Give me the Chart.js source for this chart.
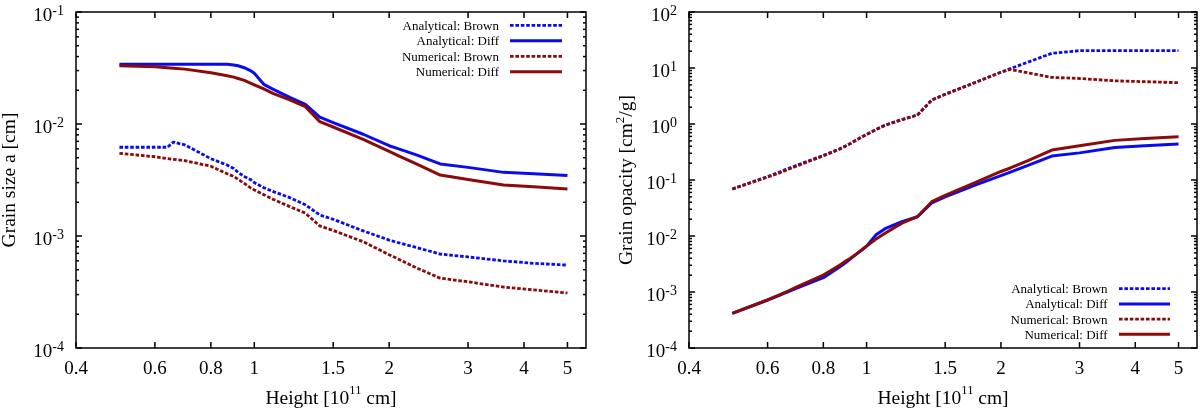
<!DOCTYPE html>
<html>
<head>
<meta charset="utf-8">
<title>Grain size and opacity vs height</title>
<script src="https://cdn.jsdelivr.net/npm/chart.js@4.4.1/dist/chart.umd.min.js"></script>
<style>
  html, body { margin: 0; padding: 0; background: #fff; }
  .panel { position: absolute; top: 0; width: 600px; height: 410px; }
</style>
</head>
<body>
<div class="panel" style="left:0"><canvas id="sizeChart"></canvas></div>
<div class="panel" style="left:600px"><canvas id="opacChart"></canvas></div>
<script>
// 두 패널: 왼쪽 grain size, 오른쪽 grain opacity (둘 다 log-log)

var heights = [0.5, 0.6, 0.64, 0.66, 0.7, 0.8, 0.87, 0.9, 0.92, 0.95, 0.98, 1.0, 1.05, 1.1, 1.2, 1.3, 1.4, 1.5, 1.75, 2.0, 2.1, 2.3, 2.6, 3.0, 3.6, 4.2, 5.0];

var seriesLabels = ['Analytical: Brown', 'Analytical: Diff', 'Numerical: Brown', 'Numerical: Diff'];

// grain size a [cm]
var sizeAnaBrown = [0.0062, 0.0062, 0.0062, 0.0069, 0.0065, 0.0049, 0.0043, 0.0040, 0.0037, 0.0034, 0.0032, 0.0030, 0.0027, 0.0025, 0.0022, 0.0019, 0.00154, 0.00141, 0.00111, 0.00092, 0.00087, 0.00079, 0.00069, 0.00065, 0.0006, 0.00057, 0.00055];
var sizeAnaDiff = [0.0341, 0.0341, 0.0341, 0.0341, 0.0341, 0.0342, 0.0341, 0.0337, 0.0331, 0.0318, 0.0300, 0.0284, 0.0226, 0.0205, 0.0173, 0.0150, 0.0115, 0.0103, 0.0081, 0.0064, 0.0060, 0.0053, 0.0044, 0.0041, 0.0037, 0.0036, 0.00347];
var sizeNumBrown = [0.00547, 0.0051, 0.0049, 0.00484, 0.0047, 0.0042, 0.0036, 0.0034, 0.0032, 0.00295, 0.0027, 0.00258, 0.00234, 0.00213, 0.00183, 0.0016, 0.00123, 0.00112, 0.00089, 0.00068, 0.00062, 0.00052, 0.00042, 0.00039, 0.00035, 0.00033, 0.00031];
var sizeNumDiff = [0.0332, 0.0324, 0.0318, 0.0315, 0.0309, 0.0287, 0.027, 0.0262, 0.0255, 0.0245, 0.0232, 0.0224, 0.0206, 0.0188, 0.0164, 0.0143, 0.0105, 0.0094, 0.0073, 0.0057, 0.0052, 0.0044, 0.0035, 0.0032, 0.00285, 0.00275, 0.00263];

// grain opacity [cm^2/g]
var opacAnaBrown = [0.069, 0.115, 0.14, 0.155, 0.185, 0.275, 0.36, 0.41, 0.45, 0.52, 0.6, 0.65, 0.8, 0.95, 1.2, 1.45, 2.68, 3.39, 5.5, 8.4, 9.75, 12.7, 18.3, 20.4, 20.4, 20.4, 20.4];
var opacNumBrown = [0.069, 0.113, 0.135, 0.15, 0.18, 0.27, 0.355, 0.41, 0.45, 0.52, 0.6, 0.65, 0.8, 0.95, 1.2, 1.45, 2.68, 3.39, 5.5, 8.4, 9.4, 8.2, 6.8, 6.5, 5.9, 5.7, 5.47];
var opacAnaDiff = [0.000416, 0.00072, 0.00088, 0.00098, 0.00118, 0.0018, 0.0028, 0.0034, 0.0039, 0.0048, 0.0058, 0.0066, 0.0105, 0.0135, 0.018, 0.0221, 0.039, 0.050, 0.081, 0.12, 0.138, 0.182, 0.268, 0.305, 0.38, 0.41, 0.44];
var opacNumDiff = [0.000416, 0.00072, 0.0009, 0.001, 0.00125, 0.002, 0.003, 0.0036, 0.0040, 0.0048, 0.0058, 0.0066, 0.0088, 0.0112, 0.017, 0.0221, 0.041, 0.053, 0.09, 0.142, 0.164, 0.222, 0.343, 0.41, 0.51, 0.55, 0.59];

var xTickValues = [0.4, 0.6, 0.8, 1, 1.5, 2, 3, 4, 5];

var BLUE = '#0a0aee';
var DARKRED = '#8b0a0a';
var FONT = '"Liberation Serif", "DejaVu Serif", serif';

// ---- 텍스트 (위첨자 포함) ----
// st = { size, sup, raise }
function richWidth(ctx, parts, st) {
  var w = 0;
  parts.forEach(function (p) {
    ctx.font = (p.sup ? st.sup : st.size) + 'px ' + FONT;
    w += ctx.measureText(p.t).width;
  });
  return w;
}

function drawRich(ctx, parts, x, y, st, align) {
  var w = richWidth(ctx, parts, st);
  var cx = align === 'right' ? x - w : (align === 'center' ? x - w / 2 : x);
  ctx.textAlign = 'left';
  ctx.textBaseline = 'alphabetic';
  parts.forEach(function (p) {
    ctx.font = (p.sup ? st.sup : st.size) + 'px ' + FONT;
    ctx.fillText(p.t, cx, p.sup ? y - st.raise : y);
    cx += ctx.measureText(p.t).width;
  });
}

function tickLine(ctx, x0, y0, x1, y1) {
  ctx.beginPath();
  ctx.moveTo(x0, y0);
  ctx.lineTo(x1, y1);
  ctx.stroke();
}

var tickStyle = { size: 19, sup: 14, raise: 6 };
var xLabelStyle = { size: 19, sup: 13, raise: 6 };
var titleStyle = { size: 19.5, sup: 12.5, raise: 10 };
var legendStyle = { size: 13, sup: 9, raise: 5 };

// ---- gnuplot 스타일 프레임, 안쪽 눈금, 라벨, 범례 ----
var framePlugin = {
  id: 'gnuFrame',
  afterDraw: function (chart) {
    var cfg = chart.options.plugins.gnuFrame;
    var ctx = chart.ctx;
    var a = chart.chartArea;
    var xs = chart.scales.x;
    var ys = chart.scales.y;
    ctx.save();
    ctx.strokeStyle = '#000';
    ctx.fillStyle = '#000';
    ctx.lineWidth = 1.5;
    ctx.setLineDash([]);
    ctx.strokeRect(a.left, a.top, a.right - a.left, a.bottom - a.top);

    // x 눈금 (아래/위)
    xTickValues.forEach(function (v) {
      var px = xs.getPixelForValue(v);
      tickLine(ctx, px, a.bottom, px, a.bottom - 6);
      tickLine(ctx, px, a.top, px, a.top + 6);
      drawRich(ctx, [{ t: String(v) }], px, 374, xLabelStyle, 'center');
    });

    // y 눈금 (10의 거듭제곱 + 보조 눈금)
    for (var e = cfg.minExp; e <= cfg.maxExp; e++) {
      for (var m = 1; m <= 9; m++) {
        if (e === cfg.maxExp && m > 1) break;
        var py = ys.getPixelForValue(m * Math.pow(10, e));
        var len = m === 1 ? 6 : 3;
        tickLine(ctx, a.left, py, a.left + len, py);
        tickLine(ctx, a.right, py, a.right - len, py);
      }
      var pyl = ys.getPixelForValue(Math.pow(10, e));
      drawRich(ctx, [{ t: '10' }, { t: String(e), sup: true }], a.left - 12, pyl + 8.5, tickStyle, 'right');
    }

    // 축 제목
    drawRich(ctx, cfg.xTitle, (a.left + a.right) / 2, 404, titleStyle, 'center');
    ctx.save();
    ctx.translate(cfg.yTitleX, (a.top + a.bottom) / 2);
    ctx.rotate(-Math.PI / 2);
    drawRich(ctx, cfg.yTitle, 0, 0, { size: 19.5, sup: 13, raise: 8 }, 'center');
    ctx.restore();

    // 범례
    var lg = cfg.legend;
    chart.data.datasets.forEach(function (ds, i) {
      var ry = lg.top + i * lg.step;
      drawRich(ctx, [{ t: ds.label }], lg.textRight, ry + 4.5, legendStyle, 'right');
      ctx.save();
      ctx.strokeStyle = ds.borderColor;
      ctx.lineWidth = ds.borderWidth;
      ctx.setLineDash(ds.borderDash || []);
      tickLine(ctx, lg.x0, ry, lg.x1, ry);
      ctx.restore();
    });
    ctx.restore();
  }
};

Chart.register(framePlugin);

function makeDataset(idx, values, color, dashed) {
  return {
    label: seriesLabels[idx],
    data: heights.map(function (h, i) { return { x: h, y: values[i] }; }),
    borderColor: color,
    backgroundColor: color,
    borderWidth: dashed ? 2.8 : 3,
    borderDash: dashed ? [3.6, 1.8] : [],
    borderCapStyle: 'butt',
    borderJoinStyle: 'round',
    pointRadius: 0,
    tension: 0,
    fill: false,
    order: 3 - idx
  };
}

function makeChart(canvasId, datasets, yMinExp, yMaxExp, yWidth, padRight, frameCfg) {
  frameCfg.minExp = yMinExp;
  frameCfg.maxExp = yMaxExp;
  return new Chart(document.getElementById(canvasId), {
    type: 'line',
    data: { datasets: datasets },
    options: {
      animation: false,
      responsive: true,
      maintainAspectRatio: false,
      layout: { padding: { top: 12, right: padRight, left: 0, bottom: 0 } },
      scales: {
        x: {
          type: 'logarithmic',
          min: 0.4,
          max: 5.5,
          ticks: { display: false },
          grid: { display: false },
          border: { display: false },
          afterFit: function (s) { s.height = 62; }
        },
        y: {
          type: 'logarithmic',
          min: Math.pow(10, yMinExp),
          max: Math.pow(10, yMaxExp),
          ticks: { display: false },
          grid: { display: false },
          border: { display: false },
          afterFit: function (s) { s.width = yWidth; }
        }
      },
      plugins: {
        legend: { display: false },
        tooltip: { enabled: false },
        gnuFrame: frameCfg
      }
    }
  });
}

var xTitle = [{ t: 'Height [10' }, { t: '11', sup: true }, { t: ' cm]' }];

makeChart('sizeChart', [
  makeDataset(0, sizeAnaBrown, BLUE, true),
  makeDataset(1, sizeAnaDiff, BLUE, false),
  makeDataset(2, sizeNumBrown, DARKRED, true),
  makeDataset(3, sizeNumDiff, DARKRED, false)
], -4, -1, 76, 14, {
  xTitle: xTitle,
  yTitle: [{ t: 'Grain size a [cm]' }],
  yTitleX: 15,
  legend: { textRight: 499, x0: 510, x1: 562, top: 25.3, step: 15.5 }
});

makeChart('opacChart', [
  makeDataset(0, opacAnaBrown, BLUE, true),
  makeDataset(1, opacAnaDiff, BLUE, false),
  makeDataset(2, opacNumBrown, DARKRED, true),
  makeDataset(3, opacNumDiff, DARKRED, false)
], -4, 2, 89, 3, {
  xTitle: xTitle,
  yTitle: [{ t: 'Grain opacity [cm' }, { t: '2', sup: true }, { t: '/g]' }],
  yTitleX: 32,
  legend: { textRight: 507.6, x0: 519, x1: 570, top: 288.7, step: 15.2 }
});
</script>
</body>
</html>
